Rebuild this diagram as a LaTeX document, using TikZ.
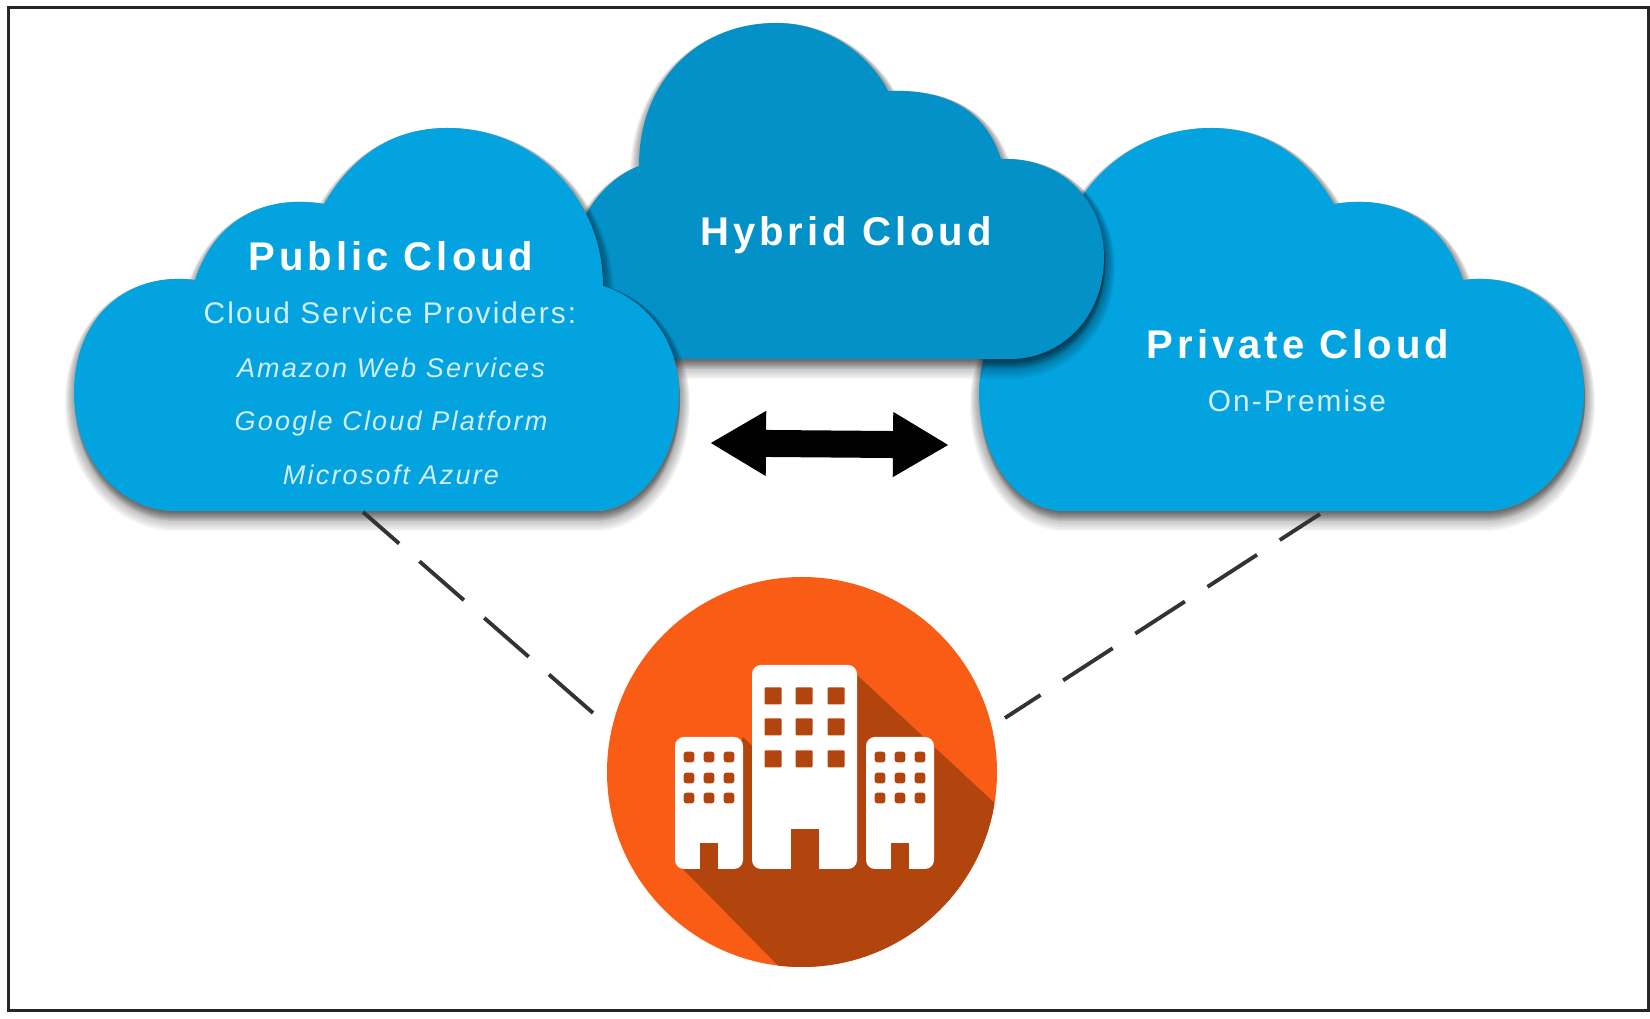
\documentclass[tikz,border=0pt]{standalone}
\usepackage{fontspec}
\setmainfont{Liberation Sans}
\newfontfamily\headfont[LetterSpace=10]{Liberation Sans}
\newfontfamily\subfont[LetterSpace=7]{Liberation Sans}
\newfontfamily\listfont[LetterSpace=8]{Liberation Sans}
\usetikzlibrary{arrows.meta}

\definecolor{skyblue}{HTML}{03A3E0}
\definecolor{deepblue}{HTML}{0391C8}
\definecolor{subtext}{HTML}{D2EEF9}
\definecolor{siteorange}{HTML}{F95D15}
\definecolor{siteshade}{HTML}{B2440E}

\newcommand{\cloudpath}{(1.74,5.08) -- (5.95,5.08)
    .. controls (6.40,5.08) and (6.79,5.60) .. (6.79,6.26)
    .. controls (6.79,6.80) and (6.45,7.20) .. (6.03,7.33)
    .. controls (6.03,8.20) and (5.35,8.91) .. (4.47,8.91)
    .. controls (3.90,8.91) and (3.50,8.60) .. (3.24,8.15)
    .. controls (2.65,8.25) and (2.15,8.00) .. (1.95,7.39)
    .. controls (1.25,7.48) and (0.74,7.00) .. (0.74,6.26)
    .. controls (0.74,5.60) and (1.20,5.08) .. (1.74,5.08) -- cycle}
\newcommand{\hybridpath}{(6.20,6.60) -- (10.10,6.60)
    .. controls (10.60,6.60) and (11.04,7.00) .. (11.04,7.62)
    .. controls (11.04,8.20) and (10.60,8.62) .. (10.01,8.60)
    .. controls (9.85,9.10) and (9.45,9.30) .. (8.88,9.28)
    .. controls (8.75,9.55) and (8.35,9.96) .. (7.76,9.96)
    .. controls (7.00,9.96) and (6.39,9.40) .. (6.39,8.53)
    .. controls (6.05,8.40) and (5.70,8.00) .. (5.70,7.40)
    .. controls (5.70,7.00) and (5.90,6.60) .. (6.20,6.60) -- cycle}

\begin{document}
\begin{tikzpicture}[
        softshadow/.style={draw=black,fill=black,opacity=.045,line join=round},
        mirrored/.style={xshift=16.58cm,xscale=-1},
        head/.style={anchor=base,text=white,font=\fontsize{11.4}{13}\headfont\bfseries},
        sub/.style={anchor=base,text=subtext,font=\fontsize{8.5}{10}\subfont},
        provider/.style={anchor=base,text=subtext,font=\fontsize{7.7}{9}\listfont\itshape},
        link/.style={draw=black!80,line width=1.1pt,dash pattern=on .59cm off .27cm,dash phase=.11cm},
        bigtip/.style={line width=.27cm,{Triangle[length=.56cm,width=.61cm]}-{Triangle[length=.56cm,width=.61cm]}},
        block/.style={fill=white,rounded corners=.09cm}
        ]
            \useasboundingbox (0, 0) rectangle (16.5, 10.19);

            % Frame
            \draw[black!85, line width=.03cm] (0.08, 0.08) rectangle (16.48, 10.11);

            % Private cloud
            \foreach \w in {.01,.02,.03,.04,.05,.06,.07,.08,.09,.10}
                \draw[softshadow, line width=2*\w cm, shift={(.01,-\w)}, mirrored] \cloudpath;
            \fill[skyblue, mirrored] \cloudpath;

            % Hybrid cloud
            \foreach \w in {.01,.02,.03,.04,.05,.06,.07,.08,.09,.10}
                \draw[softshadow, line width=2*\w cm, shift={(.01,-\w)}] \hybridpath;
            \fill[deepblue] \hybridpath;

            % Public cloud
            \foreach \w in {.01,.02,.03,.04,.05,.06,.07,.08,.09,.10}
                \draw[softshadow, line width=2*\w cm, shift={(.01,-\w)}] \cloudpath;
            \fill[skyblue] \cloudpath;

            % Labels
            \node[head] (publichead) at (3.91, 7.48) {Public Cloud};
            \node[sub] (providershead) at (3.90, 6.955) {Cloud Service Providers:};
            \node[provider] (amazon) at (3.91, 6.41) {Amazon Web Services};
            \node[provider] (google) at (3.91, 5.88) {Google Cloud Platform};
            \node[provider] (azure) at (3.91, 5.34) {Microsoft Azure};
            \node[head] (hybridhead) at (8.46, 7.73) {Hybrid Cloud};
            \node[head] (privatehead) at (12.98, 6.60) {Private Cloud};
            \node[sub] (onpremise) at (12.97, 6.07) {On-Premise};

            % Arrow between the clouds
            \coordinate (arrowl) at (7.10, 5.76);
            \coordinate (arrowr) at (9.49, 5.74);
            \draw[bigtip] (arrowl) -- (arrowr);

            % Site
            \node[circle, fill=siteorange, minimum size=3.9cm, inner sep=0pt] (site) at (8.02, 2.47) {};
            \begin{scope}
                \clip (8.02, 2.47) circle (1.95);
                \fill[siteshade] (6.82, 1.51) -- (7.43, 2.82) -- (7.55, 2.70) -- (8.57, 3.44)
                    -- (11.30, 0.90) -- (8.60, -0.30) -- cycle;
            \end{scope}

            % Buildings
            \fill[block] (6.75, 1.50) rectangle (7.43, 2.82);
            \fill[block] (7.52, 1.50) rectangle (8.57, 3.54);
            \fill[block] (8.66, 1.50) rectangle (9.34, 2.82);
            \fill[siteshade] (7.00, 1.48) rectangle (7.18, 1.76);
            \fill[siteshade] (7.91, 1.48) rectangle (8.19, 1.90);
            \fill[siteshade] (8.91, 1.48) rectangle (9.09, 1.76);
            \foreach \y in {2.62,2.41,2.21} {
                \foreach \x in {6.89,7.09,7.29}
                    \fill[siteshade, rounded corners=.025cm] (\x-.053, \y-.053) rectangle (\x+.053, \y+.053);
                \foreach \x in {8.80,9.00,9.20}
                    \fill[siteshade, rounded corners=.025cm] (\x-.053, \y-.053) rectangle (\x+.053, \y+.053);
            }
            \foreach \y in {3.23,2.92,2.60}
                \foreach \x in {7.73,8.04,8.36}
                    \fill[siteshade, rounded corners=.01cm] (\x-.085, \y-.085) rectangle (\x+.085, \y+.085);

            % Links to the site
            \coordinate (publicfoot) at (3.63, 5.07);
            \coordinate (privatefoot) at (13.20, 5.05);
            \coordinate (sitel) at (5.93, 3.06);
            \coordinate (siter) at (10.05, 3.01);
            \draw[link] (publicfoot) -- (sitel);
            \draw[link] (privatefoot) -- (siter);
        \end{tikzpicture}
\end{document}
